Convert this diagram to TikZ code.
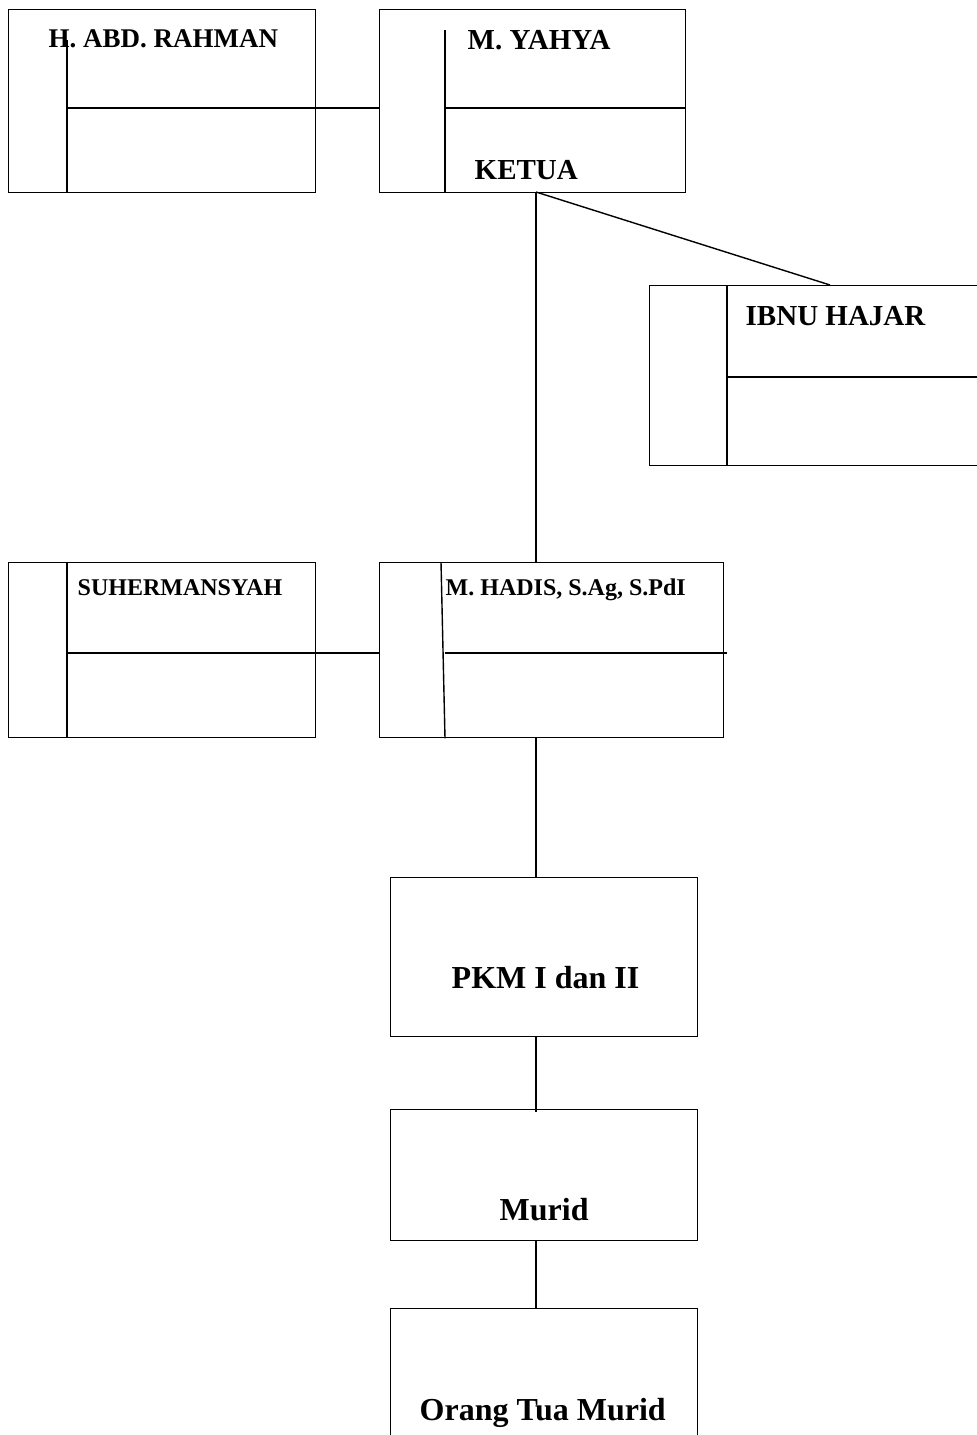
\documentclass[tikz,border=0pt]{standalone}
\usepackage{fontspec}
\setmainfont{Liberation Serif}
\begin{document}
\begin{tikzpicture}[x=1pt,y=-1pt,line width=1.4pt,
  box/.style={draw,rectangle,inner sep=0pt,anchor=north west},
  lbl/.style={anchor=base west,inner sep=0pt,font=\bfseries\fontsize{29}{34}\selectfont},
  smalllbl/.style={anchor=base west,inner sep=0pt,font=\bfseries\fontsize{24}{29}\selectfont},
  biglbl/.style={anchor=base west,inner sep=0pt,font=\bfseries\fontsize{32}{38}\selectfont}]
\path[use as bounding box,clip] (0,0) rectangle (977,1435);
% boxes
\node[box,minimum width=307pt,minimum height=183pt] (a) at (8,9) {};
\node[box,minimum width=306pt,minimum height=183pt] (b) at (379,9) {};
\node[box,minimum width=340pt,minimum height=180pt] (c) at (649,285) {};
\node[box,minimum width=307pt,minimum height=175pt] (d) at (8,562) {};
\node[box,minimum width=344pt,minimum height=175pt] (e) at (379,562) {};
\node[box,minimum width=307pt,minimum height=159pt] (f) at (390,877) {};
\node[box,minimum width=307pt,minimum height=131pt] (g) at (390,1109) {};
\node[box,minimum width=307pt,minimum height=145pt] (h) at (390,1308) {};
% inner lines
\draw (67,40) -- (a.south -| 67,0);
\draw (67,108) -- (a.east |- 0,108);
\draw (445,30) -- (b.south -| 445,0);
\draw (445,108) -- (b.east |- 0,108);
\draw (c.north -| 727,0) -- (c.south -| 727,0);
\draw (727,377) -- (977,377);
\draw (d.north -| 67,0) -- (d.south -| 67,0);
\draw (67,653) -- (d.east |- 0,653);
\draw (e.north -| 441,0) -- (e.south -| 445,0);
\draw (445,653) -- (727,653);
% labels
\node[lbl,font=\bfseries\fontsize{27}{32}\selectfont] (ta) at (48,47) {H. ABD. RAHMAN};
\node[lbl] (tb) at (467,49) {M. YAHYA};
\node[lbl] (tk) at (474,179) {KETUA};
\node[lbl] (tc) at (745,325) {IBNU HAJAR};
\node[smalllbl] (td) at (77,595) {SUHERMANSYAH};
\node[smalllbl] (te) at (445,595) {M. HADIS, S.Ag, S.PdI};
\node[biglbl] (tf) at (451,988) {PKM I dan II};
\node[biglbl] (tg) at (499,1220) {Murid};
\node[biglbl] (th) at (419,1420) {Orang Tua Murid};
% connectors
\coordinate (k) at (536,192);
\coordinate (gt) at (536,1112);
\draw (a.east |- 0,108) -- (b.west |- 0,108);
\draw (d.east |- 0,653) -- (e.west |- 0,653);
\draw (k) -- (e.north -| k);
\draw (k) -- (c.north -| 830,0);
\draw (e.south -| k) -- (f.north -| k);
\draw (f.south -| k) -- (gt);
\draw (g.south -| k) -- (h.north -| k);
\end{tikzpicture}
\end{document}
